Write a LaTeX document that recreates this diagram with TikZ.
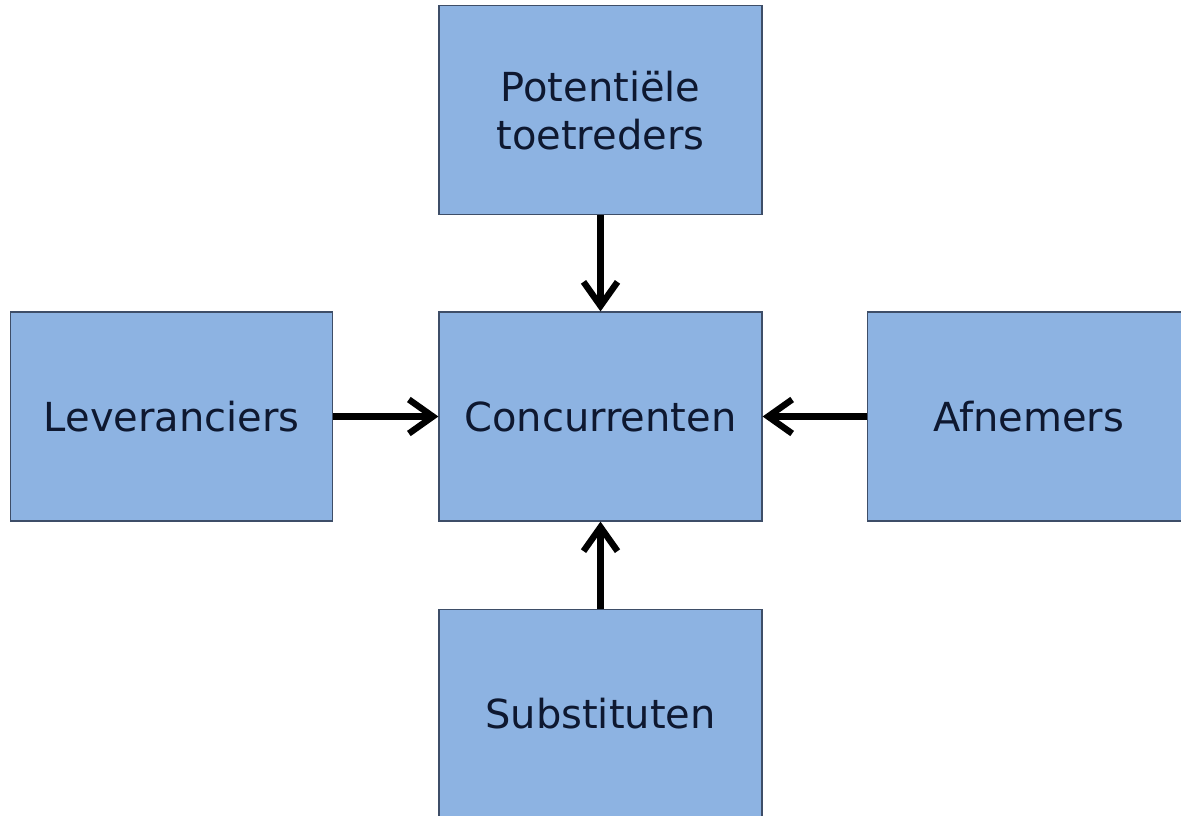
\documentclass[tikz,border=0pt]{standalone}
\usepackage{fontspec}
\setmainfont{DejaVu Sans}
\usetikzlibrary{positioning,arrows.meta}
\definecolor{boxblue}{RGB}{141,179,226}
\definecolor{boxline}{RGB}{62,78,104}
\definecolor{boxtext}{RGB}{14,24,48}
\tikzset{
  force/.style={draw=boxline,line width=0.6pt,fill=boxblue,text=boxtext,
    minimum width=161.5pt,minimum height=104.5pt,align=center,inner sep=0pt,
    font=\fontsize{20}{24}\selectfont},
  pull/.style={line width=3.2pt,-{Straight Barb[length=12pt,width=17pt]}}
}
\begin{document}
\begin{tikzpicture}[x=0.5pt,y=-0.5pt]
\clip (0,0) rectangle (1181,815);
\fill[white] (0,0) rectangle (1181,815);
\node[force] (concurrenten) at (600.5,416.5) {Concurrenten};
\node[force,above=48pt of concurrenten] (toetreders) {Potentiële\\toetreders};
\node[force,below=43.5pt of concurrenten] (substituten) {Substituten};
\node[force,left=52.5pt of concurrenten,minimum width=161pt] (leveranciers) {Leveranciers};
\node[force,right=52pt of concurrenten] (afnemers) {Afnemers};
\draw[pull] (toetreders) -- (concurrenten);
\draw[pull] (substituten) -- (concurrenten);
\draw[pull] (leveranciers) -- (concurrenten);
\draw[pull] (afnemers) -- (concurrenten);
\end{tikzpicture}
\end{document}
